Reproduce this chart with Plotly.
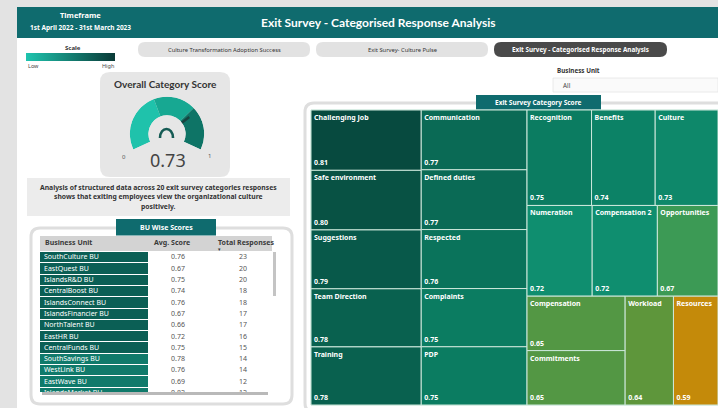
import plotly.graph_objects as go

W, H = 718, 408

# ---------------- data ----------------
categories = ["Challenging Job", "Safe environment", "Suggestions", "Team Direction", "Training",
              "Communication", "Defined duties", "Respected", "Complaints", "PDP",
              "Recognition", "Benefits", "Culture", "Numeration", "Compensation 2", "Opportunities",
              "Compensation", "Commitments", "Workload", "Resources"]
category_scores = [0.81, 0.80, 0.79, 0.78, 0.78,
                   0.77, 0.77, 0.76, 0.75, 0.75,
                   0.75, 0.74, 0.73, 0.72, 0.72, 0.67,
                   0.65, 0.65, 0.64, 0.59]

overall_score = 0.73
gauge_range = [0, 1]
gauge_band_edges = [0, 0.41, 0.70, 1.0]

business_units = ["SouthCulture BU", "EastQuest BU", "IslandsR&D BU", "CentralBoost BU",
                  "IslandsConnect BU", "IslandsFinancier BU", "NorthTalent BU", "EastHR BU",
                  "CentralFunds BU", "SouthSavings BU", "WestLink BU", "EastWave BU",
                  "IslandsMarket BU"]
bu_avg_scores = [0.76, 0.67, 0.75, 0.74, 0.76, 0.67, 0.66, 0.72, 0.75, 0.78, 0.76, 0.69, 0.82]
bu_total_responses = [23, 20, 20, 18, 18, 17, 17, 16, 15, 14, 14, 12, 12]
table_headers = ["Business Unit", "Avg. Score", "Total Responses"]

nav_buttons = ["Culture Transformation Adoption Success", "Exit Survey- Culture Pulse",
               "Exit Survey - Categorised Response Analysis"]

# ---------------- styling ----------------
FONT = "Noto Sans"
TEAL = "#0f6b6e"
band_colors = ["#1fc2ab", "#17a892", "#0e7466"]
treemap_scale = [[0.0, "#c48a0a"], [0.227, "#5e963b"], [0.364, "#3c9a55"],
                 [0.591, "#0f8e6f"], [0.727, "#0b7c61"], [0.864, "#09614f"], [1.0, "#074a3f"]]
bu_cell_scale = [[0.0, "#107a6b"], [0.22, "#107a6b"], [0.23, "#0b5f55"], [1.0, "#0b5f55"]]


def px(x):
    return x / W


def py(y):
    return 1 - y / H


def rrect(x0, y0, x1, y1, r, fill, line="rgba(0,0,0,0)", lw=0, layer="below"):
    path = (f"M{x0+r},{y0} L{x1-r},{y0} Q{x1},{y0} {x1},{y0+r} L{x1},{y1-r} Q{x1},{y1} {x1-r},{y1} "
            f"L{x0+r},{y1} Q{x0},{y1} {x0},{y1-r} L{x0},{y0+r} Q{x0},{y0} {x0+r},{y0} Z")
    return dict(type="path", path=path, xref="x", yref="y", fillcolor=fill,
                line=dict(color=line, width=lw), layer=layer)


def rect(x0, y0, x1, y1, fill, line="rgba(0,0,0,0)", lw=0, layer="below"):
    return dict(type="rect", x0=x0, y0=y0, x1=x1, y1=y1, xref="x", yref="y",
                fillcolor=fill, line=dict(color=line, width=lw), layer=layer)


def txt(x, y, s, size=7, color="#333", bold=False, xanchor="center", family=FONT):
    return dict(x=x, y=y, xref="x", yref="y", text=f"<b>{s}</b>" if bold else s,
                showarrow=False, xanchor=xanchor, yanchor="middle",
                font=dict(size=size, color=color, family=family))


fig = go.Figure()

# gradient scale legend (decoration)
fig.add_trace(go.Scatter(x=[26, 115, 115, 26, 26], y=[53, 53, 61, 61, 53], mode="lines",
                         fill="toself", line=dict(width=0),
                         fillgradient=dict(type="horizontal",
                                           colorscale=[[0, "#1ec4ae"], [1, "#0a3a37"]]),
                         hoverinfo="skip", showlegend=False, xaxis="x", yaxis="y"))

# ---------------- gauge (polar) ----------------
SPAN = 230.0
span_val = gauge_range[1] - gauge_range[0]
b_theta, b_width = [], []
for a, b in zip(gauge_band_edges[:-1], gauge_band_edges[1:]):
    b_theta.append((a + b) / 2 / span_val * SPAN)
    b_width.append((b - a) / span_val * SPAN)
fig.add_trace(go.Barpolar(r=[1] * len(b_theta), theta=b_theta, width=b_width,
                          marker=dict(color=band_colors, line=dict(width=0)),
                          hoverinfo="skip", showlegend=False, subplot="polar"))
needle_theta = (overall_score - gauge_range[0]) / span_val * SPAN
fig.add_trace(go.Scatterpolar(r=[0.0, 0.5], theta=[needle_theta, needle_theta], mode="lines",
                              line=dict(color="#17433f", width=2.5), hoverinfo="skip",
                              showlegend=False, subplot="polar", cliponaxis=False))

# ---------------- BU table (heatmap cells + text on its own axes) ----------------
n = len(business_units)
COL_EDGES = [0, 108]          # first-column cell band (table pixel units)
COL_TEXT_X = [4, 138, 203]    # text anchor per column (table pixel units)
fig.add_trace(go.Heatmap(x=COL_EDGES, y=business_units, z=[[r] for r in bu_total_responses],
                         colorscale=bu_cell_scale, zmin=min(bu_total_responses),
                         zmax=max(bu_total_responses), showscale=False, ygap=1, xgap=0,
                         hoverinfo="skip", xaxis="x2", yaxis="y2"))
fig.add_trace(go.Scatter(x=[COL_TEXT_X[0]] * n, y=business_units, text=business_units,
                         mode="text", textposition="middle right",
                         textfont=dict(size=7, color="white", family=FONT),
                         hoverinfo="skip", showlegend=False, xaxis="x2", yaxis="y2"))
fig.add_trace(go.Scatter(x=[COL_TEXT_X[1]] * n, y=business_units,
                         text=[f"{v:.2f}" for v in bu_avg_scores],
                         mode="text", textposition="middle center",
                         textfont=dict(size=7, color="#555", family=FONT),
                         hoverinfo="skip", showlegend=False, xaxis="x2", yaxis="y2"))
fig.add_trace(go.Scatter(x=[COL_TEXT_X[2]] * n, y=business_units,
                         text=[str(v) for v in bu_total_responses],
                         mode="text", textposition="middle center",
                         textfont=dict(size=7, color="#555", family=FONT),
                         hoverinfo="skip", showlegend=False, xaxis="x2", yaxis="y2"))

# ---------------- treemap ----------------
tm_domain = dict(x=[px(311), 1.0], y=[py(405), py(110)])
parents = [""] * len(categories)
fig.add_trace(go.Treemap(
    labels=categories, parents=parents, values=category_scores, sort=True,
    domain=tm_domain,
    marker=dict(colors=category_scores, colorscale=treemap_scale, cmin=min(category_scores),
                cmax=max(category_scores), line=dict(color="#cde8dc", width=1),
                pad=dict(t=0, l=0, r=0, b=0)),
    tiling=dict(packing="squarify", squarifyratio=1.618034, pad=0),
    pathbar=dict(visible=False),
    texttemplate="<b>%{label}</b>", textposition="top left",
    textfont=dict(size=7, color="white", family=FONT),
    hoverinfo="skip"))
fig.add_trace(go.Treemap(
    labels=categories, parents=parents, values=category_scores, sort=True,
    domain=tm_domain,
    marker=dict(colors=["rgba(0,0,0,0)"] * len(categories), line=dict(width=0),
                pad=dict(t=0, l=0, r=0, b=0)),
    tiling=dict(packing="squarify", squarifyratio=1.618034, pad=0),
    pathbar=dict(visible=False),
    texttemplate="<b>%{value:.2f}</b>", textposition="bottom left",
    textfont=dict(size=7, color="white", family=FONT),
    hoverinfo="skip"))

# ---------------- shapes ----------------
shapes = [
    rect(17, 7, 718, 408, "white"),
    rect(17, 7, 718, 38, TEAL),
    # nav buttons
    rrect(138, 42, 310, 57, 7, "#e2e2e2"),
    rrect(316, 42, 488, 57, 7, "#e2e2e2"),
    rrect(494, 42, 667, 57, 7, "#4a4a4a"),
    # dropdown
    rect(553, 78, 718, 92, "#fafafa", "#e4e4e4", 0.8),
    # gauge card
    rrect(100, 72, 230, 177, 10, "#e6e6e6"),
    # description box
    rect(27, 178, 290, 216, "#ececec"),
    # table card
    rrect(31, 228, 292, 404, 9, "white", "#dedede", 3),
    # table header band
    rect(40, 236, 272, 251, "#d3d3d3"),
    rect(116, 219, 216, 235.5, TEAL),
    # table scrollbars
    rect(273, 252, 276, 296, "#c4c4c4"),
    rect(42, 392, 268, 395, "#b9b9b9", layer="above"),
    # treemap card
    rrect(305, 103, 730, 412, 9, "white", "#dedede", 3),
    rect(476, 95, 601, 110, TEAL),
    # gauge centre icon
    dict(type="path", path="M160,138 C160,126 173,126 173,138", xref="x", yref="y",
         line=dict(color="#155b54", width=2.6), layer="above"),
]

annotations = [
    txt(80, 15, "Timeframe", 7.5, "white", True),
    txt(80, 27, "1st April 2022 - 31st March 2023", 6.5, "white", True),
    txt(378, 22, "Exit Survey - Categorised Response Analysis", 12, "white", True, family="Lato"),
    txt(73, 48, "Scale", 6, "#333", True),
    txt(26, 66, "Low", 5.5, "#444", False, "left"),
    txt(116, 66, "High", 5.5, "#444", False, "right"),
    txt(224, 49.5, nav_buttons[0], 5.8, "#333"),
    txt(402, 49.5, nav_buttons[1], 5.8, "#333"),
    txt(580, 49.5, nav_buttons[2], 6.3, "white", True),
    txt(578, 70, "Business Unit", 6.3, "#333", True),
    txt(561, 85, "All", 6.3, "#444", False, "left"),
    txt(165, 84, "Overall Category Score", 10, "#333", True, family="Lato"),
    txt(124, 157, f"{gauge_range[0]}", 6, "#555"),
    txt(209, 156, f"{gauge_range[1]}", 6, "#555"),
    txt(168, 160, f"{overall_score:.2f}", 18, "#444"),
    txt(158, 187, "Analysis of structured data across 20 exit survey categories responses", 6.8, "#333", True),
    txt(158, 196.5, "shows that exiting employees view the organizational culture", 6.8, "#333", True),
    txt(158, 206, "positively.", 6.8, "#333", True),
    txt(166, 227, "BU Wise Scores", 7, "white", True),
    txt(538, 102.5, "Exit Survey Category Score", 6.5, "white", True),
    txt(43, 242.5, table_headers[0], 7, "#3a3a3a", True, "left"),
    txt(152, 242.5, table_headers[1], 7, "#3a3a3a", True, "left"),
    txt(216, 242.5, table_headers[2], 7, "#3a3a3a", True, "left"),
    txt(219, 248.5, "▾", 5, "#333"),
]

fig.update_layout(
    width=W, height=H, margin=dict(l=0, r=0, t=0, b=0),
    paper_bgcolor="#e3e3e3", plot_bgcolor="rgba(0,0,0,0)",
    xaxis=dict(range=[0, W], domain=[0, 1], visible=False, fixedrange=True),
    yaxis=dict(range=[H, 0], domain=[0, 1], visible=False, fixedrange=True),
    xaxis2=dict(range=[0, 232], domain=[px(40), px(272)], visible=False, fixedrange=True,
                anchor="y2"),
    yaxis2=dict(type="category", categoryorder="array", categoryarray=business_units,
                range=[11.89, -0.5], domain=[py(392), py(252)], visible=False,
                fixedrange=True, anchor="x2"),
    polar=dict(domain=dict(x=[px(129.8), px(204.2)], y=[py(152.3), py(94)]),
               sector=[-25, 205], hole=0.5, bgcolor="rgba(0,0,0,0)",
               radialaxis=dict(visible=False, range=[0, 1]),
               angularaxis=dict(visible=False, rotation=205, direction="clockwise")),
    shapes=shapes, annotations=annotations, showlegend=False,
    font=dict(family=FONT),
)

fig.write_html("out.html")
